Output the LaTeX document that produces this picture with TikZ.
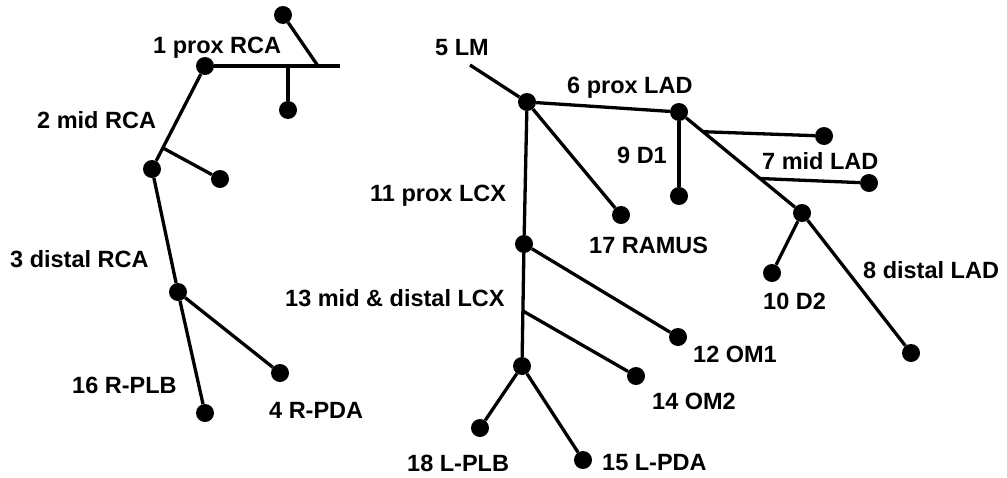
\documentclass[tikz,border=0pt]{standalone}
\usepackage{fontspec}
\setmainfont{Liberation Sans}
\begin{document}
\begin{tikzpicture}[x=1pt,y=-1pt,
  vessel/.style={line width=3.3pt},
  dot/.style={circle,fill=black,inner sep=0pt,minimum size=18pt},
  lbl/.style={anchor=base west,inner sep=0pt,font=\fontsize{23.5}{28}\selectfont\bfseries}]
\useasboundingbox (0,0) rectangle (1007,477);

% ---- right coronary tree ----
\node[dot] (r1) at (205,66) {};
\coordinate (rEnd) at (340,66);
\coordinate (rJa) at (318,66);
\coordinate (rJb) at (288,66);
\node[dot] (rTop) at (283,15) {};
\node[dot] (rLow) at (288,110) {};
\node[dot] (r2) at (152,169) {};
\coordinate (rJc) at (163,148);
\node[dot] (rSide) at (220,179) {};
\node[dot] (r3) at (178,292) {};
\node[dot] (r16) at (205,413) {};
\node[dot] (r4) at (280,373) {};

\draw[vessel] (r1) -- (rEnd);
\draw[vessel] (rTop) -- (rJa);
\draw[vessel] (rJb) -- (rLow);
\draw[vessel] (r1) -- (r2);
\draw[vessel] (rJc) -- (rSide);
\draw[vessel] (r2) -- (r3);
\draw[vessel] (r3) -- (r16);
\draw[vessel] (r3) -- (r4);

% ---- left coronary tree ----
\coordinate (lStart) at (470,65);
\node[dot] (l5) at (527,102) {};
\node[dot] (l6) at (679,112) {};
\node[dot] (l9) at (679,196) {};
\node[dot] (l17) at (621,215) {};
\coordinate (lJa) at (703,131.7);
\node[dot] (lDa) at (824,136) {};
\coordinate (lJb) at (760,178.5);
\node[dot] (lDb) at (869,183) {};
\node[dot] (l7) at (802,213) {};
\node[dot] (l10) at (772,273) {};
\node[dot] (l8) at (911,353) {};
\node[dot] (l11) at (524,244) {};
\node[dot] (l12) at (678,337) {};
\coordinate (lJc) at (523,311);
\node[dot] (l14) at (636,376) {};
\node[dot] (l13) at (522,366) {};
\node[dot] (l18) at (480,428) {};
\node[dot] (l15) at (583,460) {};

\draw[vessel] (lStart) -- (l5);
\draw[vessel] (l5) -- (l6);
\draw[vessel] (l6) -- (l9);
\draw[vessel] (l5) -- (l17);
\draw[vessel] (l6) -- (l7);
\draw[vessel] (lJa) -- (lDa);
\draw[vessel] (lJb) -- (lDb);
\draw[vessel] (l7) -- (l10);
\draw[vessel] (l7) -- (l8);
\draw[vessel] (l5) -- (l11);
\draw[vessel] (l11) -- (l12);
\draw[vessel] (l11) -- (l13);
\draw[vessel] (lJc) -- (l14);
\draw[vessel] (l13) -- (l18);
\draw[vessel] (l13) -- (l15);

% ---- segment labels ----
\node[lbl] (t1) at (153,53) {1 prox RCA};
\node[lbl] (t2) at (37,128) {2 mid RCA};
\node[lbl] (t3) at (10,267) {3 distal RCA};
\node[lbl] (t16) at (72,393) {16 R-PLB};
\node[lbl] (t4) at (269,418) {4 R-PDA};
\node[lbl] (t5) at (435,55) {5 LM};
\node[lbl] (t6) at (567,93) {6 prox LAD};
\node[lbl] (t9) at (617,163) {9 D1};
\node[lbl] (t7) at (762,169) {7 mid LAD};
\node[lbl] (t11) at (370,201) {11 prox LCX};
\node[lbl] (t17) at (589,253) {17 RAMUS};
\node[lbl] (t8) at (863,278) {8 distal LAD};
\node[lbl] (t10) at (763,309) {10 D2};
\node[lbl] (t13) at (285,306) {13 mid \& distal LCX};
\node[lbl] (t12) at (693,362) {12 OM1};
\node[lbl] (t14) at (652,409) {14 OM2};
\node[lbl] (t18) at (407,471) {18 L-PLB};
\node[lbl] (t15) at (602,470) {15 L-PDA};
\end{tikzpicture}
\end{document}
